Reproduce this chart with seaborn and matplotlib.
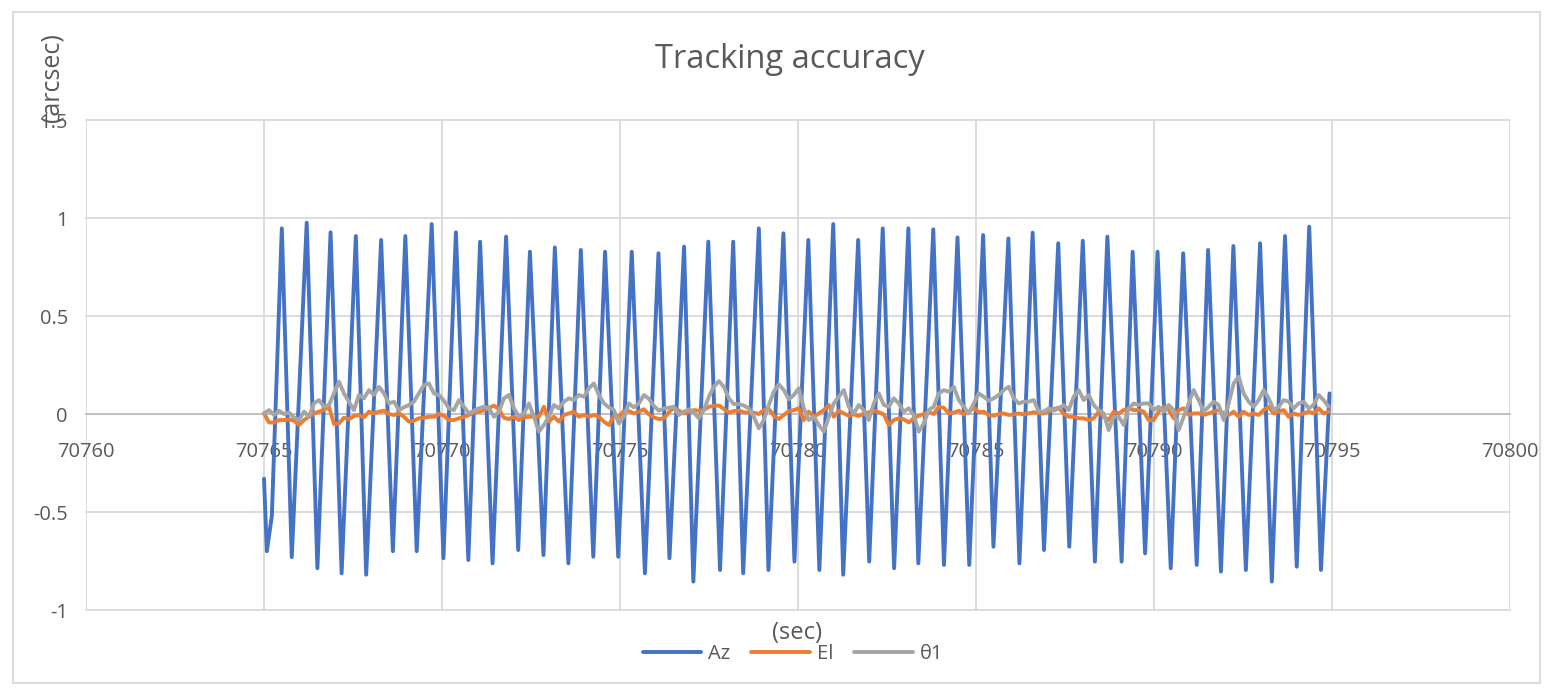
import numpy as np
import pandas as pd
import matplotlib
matplotlib.use("Agg")
import matplotlib.pyplot as plt
from matplotlib.patches import Rectangle
import seaborn as sns

# ---------------- data ----------------
title = "Tracking accuracy"
x_label = "(sec)"
y_label = "(arcsec)"
series_names = ["Az", "El", "θ1"]
series_colors = ["#4472C4", "#ED7D31", "#A5A5A5"]
x_ticks = [70760, 70765, 70770, 70775, 70780, 70785, 70790, 70795, 70800]
y_ticks = [-1, -0.5, 0, 0.5, 1, 1.5]

# Az: turning points (time, value)
az_time = [70765.00, 70765.08, 70765.22, 70765.50, 70765.78, 70766.20, 70766.50, 70766.87,
           70767.18, 70767.58, 70767.87, 70768.29, 70768.62, 70768.97, 70769.29, 70769.71,
           70770.04, 70770.39, 70770.74, 70771.07, 70771.42, 70771.80, 70772.14, 70772.47,
           70772.85, 70773.17, 70773.55, 70773.90, 70774.25, 70774.58, 70774.95, 70775.33,
           70775.70, 70776.08, 70776.39, 70776.80, 70777.06, 70777.48, 70777.81, 70778.18,
           70778.46, 70778.90, 70779.17, 70779.59, 70779.90, 70780.29, 70780.60, 70780.99,
           70781.27, 70781.69, 70782.00, 70782.38, 70782.70, 70783.10, 70783.38, 70783.80,
           70784.10, 70784.48, 70784.81, 70785.20, 70785.49, 70785.91, 70786.22, 70786.59,
           70786.91, 70787.31, 70787.62, 70788.00, 70788.34, 70788.69, 70789.09, 70789.40,
           70789.75, 70790.10, 70790.47, 70790.82, 70791.20, 70791.52, 70791.88, 70792.23,
           70792.58, 70792.98, 70793.31, 70793.68, 70794.01, 70794.36, 70794.69, 70794.93]
az_value = [-0.33, -0.70, -0.52, 0.947, -0.73, 0.976, -0.787, 0.927,
            -0.813, 0.908, -0.82, 0.888, -0.70, 0.908, -0.70, 0.969,
            -0.736, 0.927, -0.745, 0.879, -0.762, 0.905, -0.694, 0.828,
            -0.72, 0.85, -0.762, 0.837, -0.728, 0.828, -0.728, 0.828,
            -0.813, 0.82, -0.736, 0.854, -0.855, 0.879, -0.796, 0.879,
            -0.813, 0.947, -0.796, 0.922, -0.753, 0.888, -0.796, 0.969,
            -0.82, 0.888, -0.753, 0.947, -0.787, 0.947, -0.762, 0.942,
            -0.77, 0.901, -0.77, 0.913, -0.677, 0.896, -0.762, 0.925,
            -0.694, 0.871, -0.677, 0.884, -0.753, 0.905, -0.753, 0.828,
            -0.711, 0.828, -0.787, 0.82, -0.77, 0.837, -0.804, 0.857,
            -0.796, 0.871, -0.855, 0.908, -0.779, 0.956, -0.796, 0.105]

# El and θ1: sampled every ~0.14 s starting at 70765.0
sample_start = 70765.0
sample_step = 0.1404

el_value = [
    0.003, -0.043, -0.044, -0.031, -0.031, -0.027, -0.034, -0.056, -0.031, -0.014,
    0.003, 0.012, 0.020, 0.037, -0.051, -0.048, -0.019, -0.027, -0.010, -0.005,
    -0.017, 0.012, 0.003, 0.012, 0.017, 0.000, -0.005, 0.003, -0.014, -0.039,
    -0.034, -0.022, -0.019, -0.014, -0.014, 0.000, -0.009, -0.031, -0.031, -0.022,
    -0.015, -0.005, 0.007, 0.012, 0.019, 0.031, 0.043, 0.024, -0.019, -0.026,
    -0.014, -0.031, -0.017, -0.014,
    -0.014, -0.014, 0.037, -0.039, -0.014, -0.039, -0.005, 0.003, 0.012, -0.014,
    -0.005, -0.014, -0.005, -0.014, -0.039, -0.056, -0.010, -0.014, 0.015, 0.015,
    0.003, 0.012, 0.024, -0.002, -0.017, -0.026, -0.022, 0.009, 0.032, 0.017,
    0.003, 0.009, 0.020, 0.017, 0.020, 0.037, 0.041, 0.043, 0.026, 0.007,
    0.015, 0.017, 0.009, 0.007, 0.007, 0.000, 0.020, 0.026, -0.009, -0.026,
    -0.005, 0.015, 0.020, 0.029,
    -0.031, 0.012, -0.014, 0.003, 0.020, 0.046, -0.014, 0.017, 0.003, -0.009,
    -0.002, -0.010, 0.003, 0.009, 0.017, 0.009, -0.002, -0.056, -0.031, -0.022,
    -0.027, -0.043, -0.022, -0.009, 0.000, 0.009, 0.000, 0.037, 0.032, 0.003,
    0.007, 0.017, -0.002, 0.012, 0.032, 0.009, 0.012, -0.005, -0.009, 0.000,
    0.003, -0.005, -0.002, 0.003, -0.002, 0.003, 0.009, 0.003, 0.003, 0.012,
    0.026, 0.032, 0.000, -0.014,
    -0.014, -0.022, -0.022, -0.031, -0.022, 0.012, -0.014, -0.031, 0.012, 0.003,
    0.020, 0.029, 0.020, 0.020, 0.012, -0.031, -0.031, 0.012, 0.037, 0.020,
    -0.022, 0.020, 0.029, -0.005, 0.003, 0.003, -0.005, 0.003, 0.012, 0.020,
    0.003, -0.005, 0.012, -0.014, 0.012, -0.005, 0.003, -0.005, 0.020, 0.037,
    0.003, 0.012, 0.020, -0.014, 0.003, -0.005, 0.003, 0.012, 0.003, 0.029,
    0.003, 0.012,
]

theta_value = [
    0.003, 0.020, -0.005, 0.017, 0.000, 0.007, -0.017, -0.031, 0.012, -0.014,
    0.054, 0.071, 0.037, 0.046, 0.105, 0.165, 0.105, 0.063, 0.020, 0.097,
    0.080, 0.122, 0.097, 0.139, 0.105, 0.054, 0.063, 0.020, 0.034, 0.046,
    0.063, 0.105, 0.148, 0.156, 0.105, 0.097, 0.068, 0.029, 0.020, 0.071,
    0.037, 0.003, 0.017, 0.029, 0.037, 0.029, -0.014, 0.012, 0.080, 0.097,
    0.029, -0.014, 0.003, 0.054,
    -0.014, -0.090, -0.056, -0.014, 0.046, 0.029, 0.063, 0.080, 0.071, 0.097,
    0.088, 0.131, 0.156, 0.097, 0.054, 0.034, 0.020, -0.048, -0.014, 0.054,
    0.034, 0.054, 0.097, 0.078, 0.041, 0.017, 0.029, 0.032, 0.037, -0.005,
    0.012, 0.024, 0.009, -0.022, 0.020, 0.088, 0.139, 0.168, 0.139, 0.080,
    0.051, 0.051, 0.043, 0.029, -0.014, -0.073, -0.031, 0.046, 0.114, 0.151,
    0.122, 0.075, 0.097, 0.131,
    0.029, -0.031, -0.014, -0.056, -0.090, -0.014, 0.054, 0.088, 0.122, 0.037,
    0.003, 0.046, 0.020, -0.031, 0.054, 0.105, 0.046, 0.037, 0.080, 0.054,
    0.012, 0.029, -0.005, -0.090, -0.048, 0.020, 0.037, 0.105, 0.122, 0.114,
    0.139, 0.071, 0.037, 0.003, 0.054, 0.105, 0.088, 0.068, 0.080, 0.097,
    0.122, 0.139, 0.080, 0.054, 0.063, 0.063, 0.071, 0.012, 0.012, 0.029,
    0.017, 0.029, 0.046, 0.020,
    0.088, 0.122, 0.071, 0.097, 0.046, 0.020, 0.003, -0.082, -0.014, -0.014,
    -0.056, 0.029, 0.054, 0.046, 0.054, 0.054, 0.020, 0.037, 0.012, 0.046,
    0.020, -0.082, -0.014, 0.054, 0.122, 0.071, 0.012, 0.037, 0.063, 0.046,
    -0.031, 0.054, 0.156, 0.190, 0.105, 0.063, 0.037, 0.071, 0.122, 0.080,
    0.020, 0.037, 0.071, 0.063, 0.029, 0.054, 0.063, 0.029, 0.046, 0.097,
    0.071, 0.037,
]

# ---------------- build frames ----------------
df_az = pd.DataFrame({"t": az_time, "v": az_value})
df_el = pd.DataFrame({"t": sample_start + sample_step * np.arange(len(el_value)),
                      "v": el_value})
df_th = pd.DataFrame({"t": sample_start + sample_step * np.arange(len(theta_value)),
                      "v": theta_value})

# ---------------- style ----------------
sns.set_style("white")
FONT = ["Open Sans", "DejaVu Sans"]
plt.rcParams["font.family"] = FONT
TXT = "#595959"
GRID = "#D9D9D9"

W, H = 1550, 691
fig = plt.figure(figsize=(W / 100, H / 100), dpi=100)
ax = fig.add_axes([86 / W, 1 - 610 / H, (1510 - 86) / W, (610 - 120) / H])

for df, name, col, z in zip([df_az, df_el, df_th], series_names, series_colors, [2, 3, 4]):
    sns.lineplot(data=df, x="t", y="v", ax=ax, color=col, linewidth=2.8,
                 label=name, estimator=None, sort=False, zorder=z)

ax.set_xlim(x_ticks[0], x_ticks[-1])
ax.set_ylim(y_ticks[0], y_ticks[-1])
ax.set_xticks(x_ticks)
ax.set_yticks(y_ticks)
ax.set_xticklabels([f"{v}" for v in x_ticks])
ax.set_yticklabels([f"{v:g}" for v in y_ticks])
ax.set_xlabel("")
ax.set_ylabel("")

ax.grid(True, color=GRID, linewidth=1.3)
for gl in ax.get_xgridlines() + ax.get_ygridlines():
    gl.set_clip_on(False)
for s in ["top", "right", "left"]:
    ax.spines[s].set_visible(False)
ax.spines["bottom"].set_position(("data", 0))
ax.spines["bottom"].set_color("#BFBFBF")
ax.spines["bottom"].set_linewidth(1.3)
ax.spines["bottom"].set_zorder(1.5)
ax.tick_params(axis="both", length=0, labelsize=14.5, labelcolor=TXT)
ax.tick_params(axis="x", pad=20)
ax.tick_params(axis="y", pad=13)
for lab in ax.get_xticklabels() + ax.get_yticklabels():
    lab.set_family(FONT)

ax.get_legend().remove()
handles, labels = ax.get_legend_handles_labels()

fig.text(790 / W, 1 - 60 / H, title, ha="center", va="center",
         fontsize=23.5, color=TXT, family=FONT)
fig.text(797 / W, 1 - 633 / H, x_label, ha="center", va="center",
         fontsize=17, color=TXT, family=FONT)
fig.text(52 / W, 1 - 78 / H, y_label, ha="center", va="center", rotation=90,
         fontsize=18, color=TXT, family=FONT)

leg = fig.legend(handles, labels, loc="center", bbox_to_anchor=(793 / W, 1 - 654 / H),
                 ncol=3, frameon=False, fontsize=14.5, handlelength=2.9,
                 handletextpad=0.35, columnspacing=1.05, labelcolor=TXT)
for t in leg.get_texts():
    t.set_family(FONT)

fig.patches.append(Rectangle((13 / W, 1 - 683 / H), (1540 - 13) / W, (683 - 12) / H,
                             transform=fig.transFigure, fill=False,
                             edgecolor=GRID, linewidth=1.3))

fig.savefig("out.png", dpi=100, facecolor="white")
